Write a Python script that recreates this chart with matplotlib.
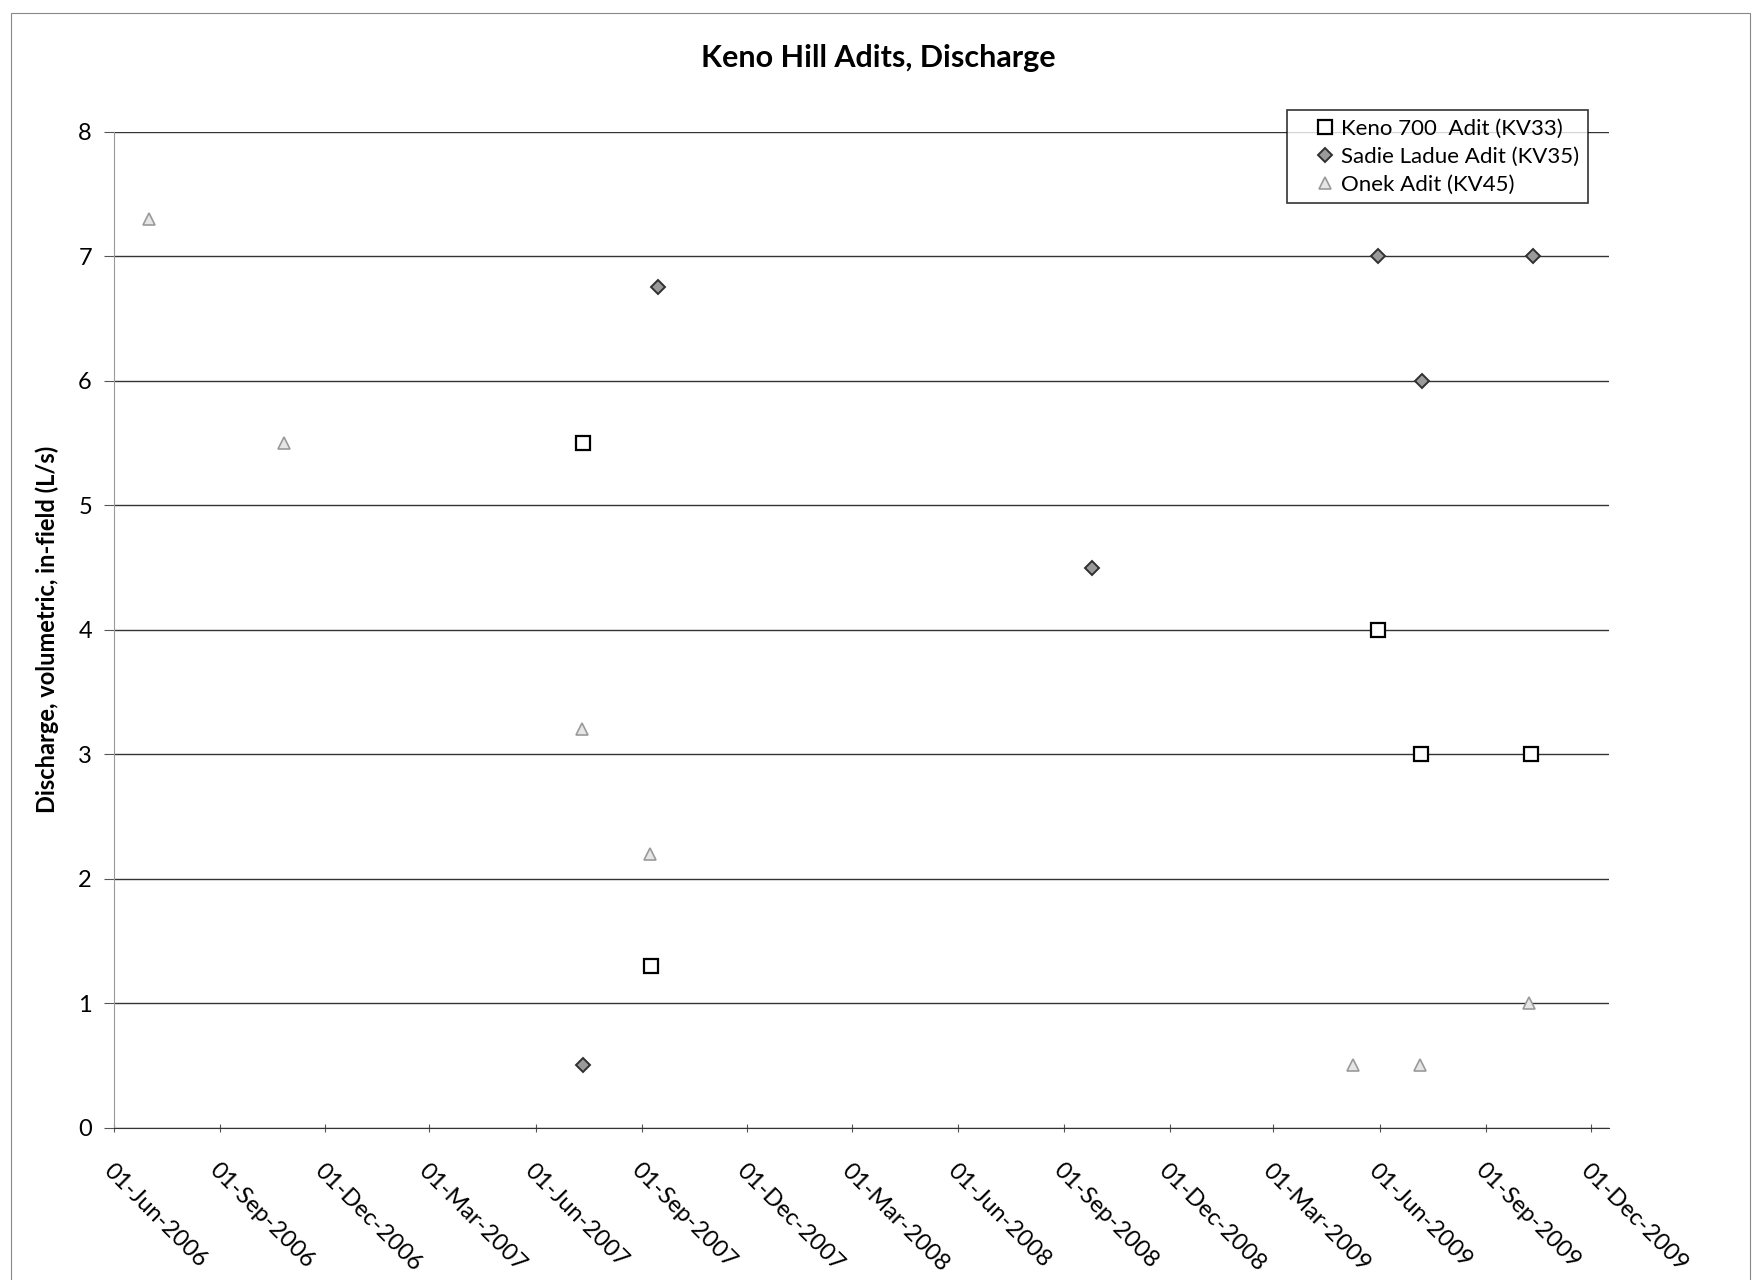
import datetime as dt
from matplotlib import pyplot as plt
import matplotlib.dates as mdates
from matplotlib.patches import Rectangle

plt.rcParams['font.family'] = ['Lato', 'DejaVu Sans']

# Keno 700 Adit (KV33)
keno_dates = [dt.date(2007, 7, 12), dt.date(2007, 9, 9), dt.date(2009, 5, 31),
              dt.date(2009, 7, 7), dt.date(2009, 10, 10)]
keno_vals = [5.5, 1.3, 4.0, 3.0, 3.0]

# Sadie Ladue Adit (KV35)
sadie_dates = [dt.date(2007, 7, 12), dt.date(2007, 9, 15), dt.date(2008, 9, 25),
               dt.date(2009, 5, 31), dt.date(2009, 7, 8), dt.date(2009, 10, 12)]
sadie_vals = [0.5, 6.75, 4.5, 7.0, 6.0, 7.0]

# Onek Adit (KV45)
onek_dates = [dt.date(2006, 7, 1), dt.date(2006, 10, 26), dt.date(2007, 7, 11),
              dt.date(2007, 9, 8), dt.date(2009, 5, 9), dt.date(2009, 7, 6),
              dt.date(2009, 10, 8)]
onek_vals = [7.3, 5.5, 3.2, 2.2, 0.5, 0.5, 1.0]

tick_dates = [dt.date(2006 + (5 + 3 * i) // 12, (5 + 3 * i) % 12 + 1, 1) for i in range(15)]

fig = plt.figure(figsize=(17.57, 12.8), dpi=100)
ax = fig.add_axes([0.065, 0.119, 0.851, 0.778])

ax.plot(keno_dates, keno_vals, ls="none", marker="s", ms=10, mfc="white",
        mec="black", mew=1.6, label="Keno 700  Adit (KV33)", zorder=3)
ax.plot(sadie_dates, sadie_vals, ls="none", marker="D", ms=7, mfc="#9a9a9a",
        mec="#303030", mew=1.4, label="Sadie Ladue Adit (KV35)", zorder=3)
ax.plot(onek_dates, onek_vals, ls="none", marker="^", ms=9, mfc="#e6e6e6",
        mec="#9a9a9a", mew=1.2, label="Onek Adit (KV45)", zorder=3)

ax.set_xlim(dt.date(2006, 6, 1), dt.date(2009, 12, 17))
ax.set_ylim(0, 8)
ax.set_yticks(range(0, 9))
ax.set_xticks(tick_dates)
ax.xaxis.set_major_formatter(mdates.DateFormatter("%d-%b-%Y"))
ax.yaxis.grid(True, color="#333333", lw=1.0)
ax.set_axisbelow(True)

for s in ["top", "right"]:
    ax.spines[s].set_visible(False)
ax.spines["left"].set_color("#999999")
ax.spines["left"].set_linewidth(0.8)
ax.spines["bottom"].set_color("#333333")

ax.tick_params(axis="y", labelsize=17, length=7, color="#555555", pad=9)
ax.tick_params(axis="x", labelsize=17, length=6, direction="inout", color="#555555", pad=20)
for lbl in ax.get_xticklabels():
    lbl.set_rotation(-45)
    lbl.set_ha("left")
    lbl.set_va("top")
    lbl.set_rotation_mode("anchor")

ax.set_ylabel("Discharge, volumetric, in-field (L/s)", fontsize=17, fontweight="bold", labelpad=14)
fig.suptitle("Keno Hill Adits, Discharge", fontsize=22, fontweight="bold", y=0.966)

leg = ax.legend(loc="upper right", bbox_to_anchor=(0.993, 1.033), fontsize=16,
                frameon=True, fancybox=False, handlelength=2.6, handletextpad=-0.6,
                borderpad=0.4, labelspacing=0.35)
leg.get_frame().set_edgecolor("black")
leg.get_frame().set_linewidth(1.2)

# thin outer border of the chart area
fig.patches.append(Rectangle((0.006, -0.05), 0.99, 1.04, transform=fig.transFigure,
                             fill=False, ec="#888888", lw=0.8))

fig.savefig("out.png", dpi=100)
